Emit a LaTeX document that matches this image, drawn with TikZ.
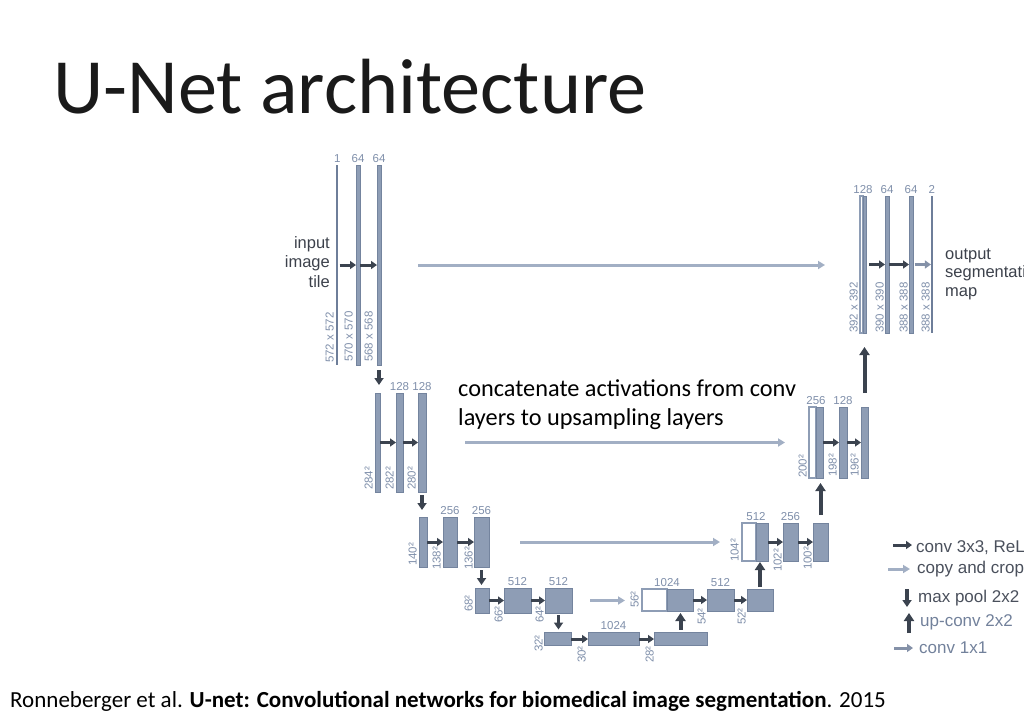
\documentclass[tikz,border=0pt]{standalone}
\usepackage{fontspec}
\setmainfont{Carlito}
\newfontfamily\diagfont{Liberation Sans}
\usetikzlibrary{arrows.meta}

\definecolor{barcol}{HTML}{8E9DB5}
\definecolor{barline}{HTML}{74849E}
\definecolor{thincol}{HTML}{6E7E99}
\definecolor{numcol}{HTML}{7F8FAA}
\definecolor{darkarrow}{HTML}{3B434F}
\definecolor{copycol}{HTML}{A2AFC4}
\definecolor{finalcol}{HTML}{8491A8}
\definecolor{textdark}{HTML}{3C414B}
\definecolor{legdark}{HTML}{4A505C}
\definecolor{leglight}{HTML}{72819B}
\definecolor{titlecol}{HTML}{1A1A1A}

% one feature-map block: name, centre x, centre y, width, height, style
\newcommand\unetbar[6]{\node[#6, minimum width=#4pt, minimum height=#5pt] (#1) at (#2,#3) {};}

\begin{document}
\begin{tikzpicture}[x=1pt,y=-1pt,
  fmap/.style={rectangle, inner sep=0pt, outer sep=0pt, fill=barcol, draw=barline, line width=0.5pt},
  thinmap/.style={fmap, fill=thincol, draw=none},
  cropmap/.style={fmap, fill=white, draw=barcol, line width=1.2pt},
  num/.style={font=\diagfont\fontsize{11.5}{13}\selectfont, text=numcol, inner sep=0pt, anchor=base},
  dimlbl/.style={font=\diagfont\fontsize{11.5}{13}\selectfont, text=numcol, inner sep=0pt, rotate=90, anchor=south west},
  side/.style={font=\diagfont\fontsize{16.5}{20}\selectfont, text=textdark, inner sep=0pt},
  legtext/.style={font=\diagfont\fontsize{17}{20}\selectfont, inner sep=0pt, anchor=base west},
  convarrow/.style={draw=darkarrow, line width=3pt, -{Triangle[length=6pt,width=8pt]}},
  poolarrow/.style={draw=darkarrow, line width=3.5pt, -{Triangle[length=7pt,width=9pt]}},
  uparrow/.style={draw=darkarrow, line width=4pt, -{Triangle[length=8pt,width=10pt]}},
  cpyarrow/.style={draw=copycol, line width=3pt, -{Triangle[length=7pt,width=8pt]}},
  finalarrow/.style={draw=finalcol, line width=3pt, -{Triangle[length=6pt,width=8pt]}},
]
\useasboundingbox (0,0) rectangle (1024,720);
\clip (0,0) rectangle (1024,720);

% title and reference
\node[anchor=base west, inner sep=0pt, font=\fontsize{78.3}{90}\selectfont, text=titlecol] (title) at (53,113) {U-Net architecture};
\node[anchor=base west, inner sep=0pt, font=\fontsize{23}{27}\selectfont] (cite) at (10,707)
  {Ronneberger et al. \textbf{U-net: Convolutional networks for biomedical image segmentation}. 2015};

% contracting path
\unetbar{L1a}{337.2}{265}{1.8}{200}{thinmap}
\unetbar{L1b}{358}{265}{4}{200}{fmap}
\unetbar{L1c}{379}{265}{4}{200}{fmap}
\unetbar{L2a}{377.5}{442.5}{5}{99}{fmap}
\unetbar{L2b}{399.5}{442.5}{7}{99}{fmap}
\unetbar{L2c}{422}{442.5}{8}{99}{fmap}
\unetbar{L3a}{423}{542}{8}{50}{fmap}
\unetbar{L3b}{450}{542}{14}{50}{fmap}
\unetbar{L3c}{481.5}{542}{15}{50}{fmap}
\unetbar{L4a}{482}{600.5}{14}{25}{fmap}
\unetbar{L4b}{517.5}{600.5}{27}{25}{fmap}
\unetbar{L4c}{558.5}{600.5}{27}{25}{fmap}
\unetbar{L5a}{557.5}{639}{27}{13}{fmap}
\unetbar{L5b}{613.5}{639}{51}{13}{fmap}
\unetbar{L5c}{680.5}{639}{53}{13}{fmap}

% expansive path
\unetbar{R4w}{654.5}{600}{25}{22}{cropmap}
\unetbar{R4g}{680}{600}{26}{22}{fmap}
\unetbar{R4b}{720.5}{600}{27}{22}{fmap}
\unetbar{R4c}{760}{600}{26}{22}{fmap}
\unetbar{R3w}{749}{542}{14}{38}{cropmap}
\unetbar{R3g}{762}{542}{12}{38}{fmap}
\unetbar{R3b}{790.5}{542}{15}{38}{fmap}
\unetbar{R3c}{820.5}{542}{15}{38}{fmap}
\unetbar{R2w}{812.5}{442.5}{7}{71}{cropmap}
\unetbar{R2g}{819.5}{442.5}{7}{71}{fmap}
\unetbar{R2b}{843}{442.5}{8}{71}{fmap}
\unetbar{R2c}{864.5}{442.5}{7}{71}{fmap}
\unetbar{R1w}{861.5}{264.5}{3}{137}{cropmap}
\unetbar{R1g}{864.5}{264.5}{3}{137}{fmap}
\unetbar{R1b}{887}{264.5}{4}{137}{fmap}
\unetbar{R1c}{911}{264.5}{4}{137}{fmap}
\unetbar{R1d}{931.7}{264.5}{1.6}{137}{thinmap}

% channel counts
\node[num] (L1a-n) at ([yshift=3pt]L1a.north) {1};
\node[num] (L1b-n) at ([yshift=3pt]L1b.north) {64};
\node[num] (L1c-n) at ([yshift=3pt]L1c.north) {64};
\node[num] (L2b-n) at ([yshift=3pt]L2b.north) {128};
\node[num] (L2c-n) at ([yshift=3pt]L2c.north) {128};
\node[num] (L3b-n) at ([yshift=3pt]L3b.north) {256};
\node[num] (L3c-n) at ([yshift=3pt]L3c.north) {256};
\node[num] (L4b-n) at ([yshift=3pt]L4b.north) {512};
\node[num] (L4c-n) at ([yshift=3pt]L4c.north) {512};
\node[num] (L5b-n) at ([yshift=3pt]L5b.north) {1024};
\node[num] (R4w-n) at ([yshift=3pt]R4w.north east) {1024};
\node[num] (R4b-n) at ([yshift=3pt]R4b.north) {512};
\node[num] (R3w-n) at ([yshift=3pt]R3w.north east) {512};
\node[num] (R3b-n) at ([yshift=3pt]R3b.north) {256};
\node[num] (R2w-n) at ([yshift=3pt]R2w.north east) {256};
\node[num] (R2b-n) at ([yshift=3pt]R2b.north) {128};
\node[num] (R1w-n) at ([yshift=3pt]R1w.north east) {128};
\node[num] (R1b-n) at ([yshift=3pt]R1b.north) {64};
\node[num] (R1c-n) at ([yshift=3pt]R1c.north) {64};
\node[num] (R1d-n) at ([yshift=3pt]R1d.north) {2};

% spatial sizes
\node[dimlbl] (L1a-d) at (334,363) {572 x 572};
\node[dimlbl] (L1b-d) at (353,362) {570 x 570};
\node[dimlbl] (L1c-d) at (373,362) {568 x 568};
\node[dimlbl] (L2a-d) at (373,490) {284²};
\node[dimlbl] (L2b-d) at (394,490) {282²};
\node[dimlbl] (L2c-d) at (416,490) {280²};
\node[dimlbl] (L3a-d) at (417,566) {140²};
\node[dimlbl] (L3b-d) at (441,570) {138²};
\node[dimlbl] (L3c-d) at (473,570) {136²};
\node[dimlbl] (L4a-d) at (473,612) {68²};
\node[dimlbl] (L4b-d) at (503,623) {66²};
\node[dimlbl] (L4c-d) at (544,623) {64²};
\node[dimlbl] (L5a-d) at (543,652) {32²};
\node[dimlbl] (L5b-d) at (586,663) {30²};
\node[dimlbl] (L5c-d) at (654,663) {28²};
\node[dimlbl] (R4w-d) at (639,608) {56²};
\node[dimlbl] (R4b-d) at (706,625) {54²};
\node[dimlbl] (R4c-d) at (746,625) {52²};
\node[dimlbl] (R3w-d) at (739,562) {104²};
\node[dimlbl] (R3b-d) at (782,572) {102²};
\node[dimlbl] (R3c-d) at (812,570) {100²};
\node[dimlbl] (R2w-d) at (807,478) {200²};
\node[dimlbl] (R2b-d) at (837,477) {198²};
\node[dimlbl] (R2c-d) at (859,477) {196²};
\node[dimlbl] (R1w-d) at (858,333) {392 x 392};
\node[dimlbl] (R1b-d) at (884,333) {390 x 390};
\node[dimlbl] (R1c-d) at (908,333) {388 x 388};
\node[dimlbl] (R1d-d) at (930,333) {388 x 388};

% 3x3 convolutions
\draw[convarrow, shorten <=1.5pt] (L1a.east) -- (L1b.west);
\draw[convarrow] (L1b.east) -- (L1c.west);
\draw[convarrow] (L2a.east) -- (L2b.west);
\draw[convarrow] (L2b.east) -- (L2c.west);
\draw[convarrow] (L3a.east) -- (L3b.west);
\draw[convarrow] (L3b.east) -- (L3c.west);
\draw[convarrow] (L4a.east) -- (L4b.west);
\draw[convarrow] (L4b.east) -- (L4c.west);
\draw[convarrow] (L5a.east) -- (L5b.west);
\draw[convarrow] (L5b.east) -- (L5c.west);
\draw[convarrow] (R4g.east) -- (R4b.west);
\draw[convarrow] (R4b.east) -- (R4c.west);
\draw[convarrow] (R3g.east) -- (R3b.west);
\draw[convarrow] (R3b.east) -- (R3c.west);
\draw[convarrow] (R2g.east) -- (R2b.west);
\draw[convarrow] (R2b.east) -- (R2c.west);
\draw[convarrow, shorten <=3pt] (R1g.east) -- (R1b.west);
\draw[convarrow] (R1b.east) -- (R1c.west);
\draw[finalarrow, shorten <=1.5pt] (R1c.east) -- (R1d.west);

% max pooling
\draw[poolarrow, shorten <=5pt, shorten >=8pt] (L1c.south) -- (L1c.south |- L2a.north);
\draw[poolarrow, shorten <=3pt, shorten >=7pt] (L2c.south) -- (L2c.south |- L3a.north);
\draw[poolarrow, shorten <=3pt, shorten >=3pt] (L3c.south) -- (L3c.south |- L4a.north);
\draw[poolarrow, shorten <=2pt, shorten >=3pt] (L4c.south) -- (L4c.south |- L5a.north);

% up-convolutions
\draw[uparrow, shorten <=3pt, shorten >=2pt] (L5c.north) -- (L5c.north |- R4g.south);
\draw[uparrow, shorten <=2pt, shorten >=1pt] (R4c.north) -- (R4c.north |- R3g.south);
\draw[uparrow, shorten <=8pt, shorten >=5pt] (R3c.north) -- (R3c.north |- R2g.south);
\draw[uparrow, shorten <=14pt, shorten >=14pt] (R2c.north) -- (R2c.north |- R1g.south);

% copy and crop
\draw[cpyarrow, shorten <=37pt, shorten >=35pt] (L1c.east) -- (L1c.east -| R1w.west);
\draw[cpyarrow, shorten <=39pt, shorten >=24pt] (L2c.east) -- (L2c.east -| R2w.west);
\draw[cpyarrow, shorten <=31pt, shorten >=22pt] (L3c.east) -- (L3c.east -| R3w.west);
\draw[cpyarrow, shorten <=18pt, shorten >=17pt] (L4c.east) -- (L4c.east -| R4w.west);

% input / output captions
\node[side, anchor=base east] (in1) at (330,248) {input};
\node[side, anchor=base east] (in2) at (330,267.5) {image};
\node[side, anchor=base east] (in3) at (330,287) {tile};
\node[side, anchor=base west] (out1) at (945,259) {output};
\node[side, anchor=base west] (out2) at (945,277.5) {segmentation};
\node[side, anchor=base west] (out3) at (945,296) {map};

% annotation
\node[anchor=base west, inner sep=0pt, font=\fontsize{24.3}{29}\selectfont] (note1) at (458,396) {concatenate activations from conv};
\node[anchor=base west, inner sep=0pt, font=\fontsize{24.3}{29}\selectfont] (note2) at (458,425) {layers to upsampling layers};

% legend
\coordinate (k1a) at (893,545); \coordinate (k1b) at (912,545);
\coordinate (k2a) at (888,569); \coordinate (k2b) at (910,569);
\coordinate (k3a) at (907,589); \coordinate (k3b) at (907,607);
\coordinate (k4a) at (909,633); \coordinate (k4b) at (909,613);
\coordinate (k5a) at (894,648); \coordinate (k5b) at (913,648);
\draw[convarrow] (k1a) -- (k1b);
\draw[cpyarrow] (k2a) -- (k2b);
\draw[poolarrow] (k3a) -- (k3b);
\draw[uparrow, line width=3.5pt] (k4a) -- (k4b);
\draw[finalarrow] (k5a) -- (k5b);
\node[legtext, text=legdark] (k1t) at (916,552) {conv 3x3, ReLU};
\node[legtext, text=legdark] (k2t) at (917,573) {copy and crop};
\node[legtext, text=legdark] (k3t) at (918,602) {max pool 2x2};
\node[legtext, text=leglight] (k4t) at (920,626) {up-conv 2x2};
\node[legtext, text=leglight] (k5t) at (919,653) {conv 1x1};
\end{tikzpicture}
\end{document}
